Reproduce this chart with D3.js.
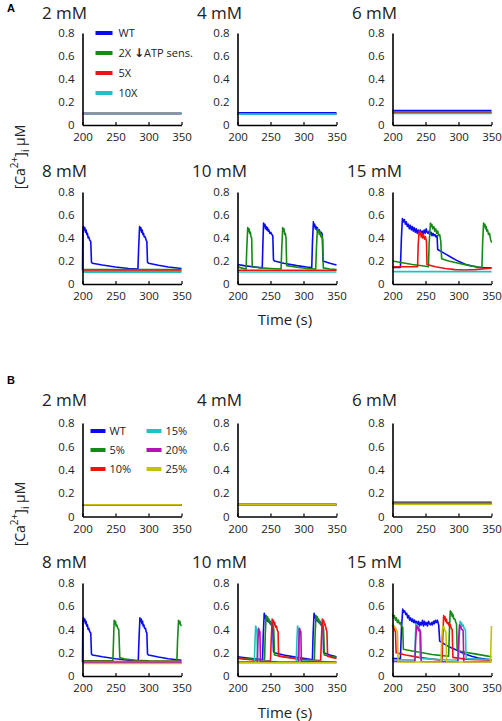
<!DOCTYPE html>
<html><head><meta charset="utf-8">
<script src="https://cdn.jsdelivr.net/npm/d3@7"></script>
<style>
body{margin:0;background:#fff;}
svg{display:block;font-family:"Open Sans",sans-serif;}
</style></head>
<body><svg id="chart" width="502" height="721"></svg>
<script>
// ---------- DATA ----------
const panelTitles = ["2 mM","4 mM","6 mM","8 mM","10 mM","15 mM"];
const xTicks = [200,250,300,350];
const yTicks = [0,0.2,0.4,0.6,0.8];
const seriesA = ["WT","2X \u2193ATP sens.","5X","10X"];
const seriesB = ["WT","5%","10%","15%","20%","25%"];
const xLabel = "Time (s)";

// Panel A traces: [time s, Ca uM]
const A2_WT = [[200,0.1],[350,0.1]];
const A2_2X = [[200,0.1],[350,0.1]];
const A2_5X = [[200,0.1],[350,0.1]];
const A2_10X = [[200,0.1],[350,0.1]];
const A4_WT = [[200,0.107],[350,0.107]];
const A4_2X = [[200,0.097],[350,0.097]];
const A4_5X = [[200,0.096],[350,0.096]];
const A4_10X = [[200,0.095],[350,0.095]];
const A6_WT = [[200,0.125],[350,0.125]];
const A6_2X = [[200,0.112],[350,0.112]];
const A6_5X = [[200,0.105],[350,0.105]];
const A6_10X = [[200,0.1],[350,0.1]];
const A8_WT = [[200,0.12],[200.5,0.47],[201.5,0.5],[202.5,0.47],[203.5,0.49],[204.5,0.45],[205.5,0.47],[206.5,0.43],[207.5,0.44],[208.5,0.4],[209.5,0.41],[211,0.38],[212.5,0.37],[213.6,0.19],[215,0.18],[230,0.165],[250,0.148],[270,0.135],[284,0.13],[285,0.3],[286.5,0.5],[287.5,0.47],[288.5,0.49],[289.5,0.45],[290.5,0.47],[291.5,0.43],[292.5,0.44],[293.5,0.41],[295,0.41],[296.5,0.38],[297.5,0.37],[298.5,0.19],[300,0.18],[315,0.163],[330,0.148],[350,0.135]];
const A8_2X = [[200,0.125],[350,0.125]];
const A8_5X = [[200,0.113],[350,0.113]];
const A8_10X = [[200,0.102],[350,0.102]];
const A10_WT = [[200,0.17],[210,0.16],[220,0.152],[230,0.145],[237.5,0.14],[238.5,0.35],[239.5,0.53],[240.5,0.5],[241.5,0.52],[242.5,0.48],[243.5,0.5],[244.5,0.47],[245.5,0.49],[246.5,0.46],[247.5,0.47],[249,0.44],[250.5,0.45],[252,0.43],[253.5,0.42],[254.5,0.21],[256,0.2],[270,0.18],[290,0.16],[305,0.148],[312.5,0.143],[313.5,0.35],[315,0.54],[316,0.5],[317,0.52],[318,0.48],[319,0.5],[320,0.47],[321,0.49],[322.5,0.46],[324,0.47],[325.5,0.44],[327,0.45],[328.5,0.43],[329.5,0.2],[340,0.18],[350,0.165]];
const A10_2X = [[200,0.15],[207,0.138],[213,0.13],[214,0.3],[215.5,0.49],[216.5,0.46],[217.5,0.48],[218.5,0.44],[219.5,0.45],[220.5,0.41],[221.5,0.4],[222.3,0.15],[235,0.14],[250,0.135],[266,0.13],[267,0.3],[268.5,0.49],[269.5,0.46],[270.5,0.48],[271.5,0.43],[272.5,0.44],[273.5,0.4],[274.5,0.16],[290,0.145],[305,0.135],[318.5,0.13],[319.5,0.3],[321,0.48],[322,0.45],[323,0.47],[324,0.43],[325,0.45],[326.5,0.41],[328,0.42],[329,0.38],[330,0.14],[340,0.13],[350,0.125]];
const A10_5X = [[200,0.12],[350,0.12]];
const A10_10X = [[200,0.105],[350,0.105]];
const A15_WT = [[200,0.145],[212,0.145],[213.5,0.4],[215,0.57],[216.5,0.54],[218,0.56],[219.5,0.52],[221,0.54],[222.5,0.5],[224,0.52],[225.5,0.48],[227,0.51],[228.5,0.47],[230,0.5],[231.5,0.46],[233,0.49],[234.5,0.45],[236,0.48],[237.5,0.44],[239,0.47],[240.5,0.44],[242,0.47],[243.5,0.43],[245,0.46],[246.5,0.44],[248,0.47],[249.5,0.44],[251,0.48],[252.5,0.45],[254,0.44],[255.5,0.46],[257,0.43],[258.5,0.45],[260,0.42],[261.5,0.44],[263,0.42],[264.5,0.43],[266,0.41],[267.5,0.42],[268.5,0.3],[280,0.262],[290,0.228],[300,0.197],[310,0.172],[320,0.156],[330,0.146],[337,0.14],[350,0.14]];
const A15_2X = [[200,0.2],[215,0.185],[230,0.17],[245,0.158],[254.5,0.15],[255.5,0.35],[257.5,0.53],[258.5,0.5],[259.5,0.52],[261,0.48],[262.5,0.5],[264,0.46],[265.5,0.48],[267,0.44],[268.5,0.46],[270,0.42],[271.5,0.43],[273,0.38],[274.5,0.22],[285,0.2],[300,0.18],[315,0.162],[330,0.148],[335.5,0.145],[336.5,0.35],[338,0.53],[339,0.5],[340,0.52],[341,0.48],[342,0.5],[343,0.46],[344,0.47],[345.5,0.43],[347,0.44],[348.5,0.39],[350,0.36]];
const A15_5X = [[200,0.15],[238,0.15],[239,0.35],[240.5,0.46],[241.5,0.43],[242.5,0.45],[243.5,0.41],[244.5,0.44],[245.5,0.4],[247,0.43],[248.5,0.39],[250,0.41],[251.5,0.37],[252.3,0.17],[265,0.15],[280,0.135],[295,0.125],[310,0.122],[325,0.125],[340,0.132],[350,0.138]];
const A15_10X = [[200,0.108],[350,0.108]];

// Panel B traces
const B2_WT = [[200,0.1],[350,0.1]];
const B2_5 = [[200,0.1],[350,0.1]];
const B2_10 = [[200,0.1],[350,0.1]];
const B2_15 = [[200,0.1],[350,0.1]];
const B2_20 = [[200,0.1],[350,0.1]];
const B2_25 = [[200,0.1],[350,0.1]];
const B4_WT = [[200,0.103],[350,0.103]];
const B4_5 = [[200,0.103],[350,0.103]];
const B4_10 = [[200,0.102],[350,0.102]];
const B4_15 = [[200,0.102],[350,0.102]];
const B4_20 = [[200,0.101],[350,0.101]];
const B4_25 = [[200,0.101],[350,0.101]];
const B6_WT = [[200,0.122],[350,0.122]];
const B6_5 = [[200,0.116],[350,0.116]];
const B6_10 = [[200,0.113],[350,0.113]];
const B6_15 = [[200,0.11],[350,0.11]];
const B6_20 = [[200,0.108],[350,0.108]];
const B6_25 = [[200,0.105],[350,0.105]];
const B8_WT = [[200,0.12],[200.5,0.47],[201.5,0.5],[202.5,0.47],[203.5,0.49],[204.5,0.45],[205.5,0.47],[206.5,0.43],[207.5,0.44],[208.5,0.4],[209.5,0.41],[211,0.38],[212.5,0.37],[213.6,0.19],[215,0.18],[230,0.165],[250,0.148],[270,0.135],[284.5,0.13],[285.5,0.3],[287,0.5],[288,0.47],[289,0.49],[290,0.45],[291,0.47],[292,0.43],[293,0.44],[294,0.41],[295.5,0.41],[296.5,0.38],[297.5,0.37],[298.5,0.19],[300,0.18],[315,0.163],[330,0.148],[350,0.135]];
const B8_5 = [[200,0.13],[246,0.13],[247,0.3],[248,0.48],[249,0.45],[250,0.47],[251,0.43],[252,0.44],[253.5,0.41],[255,0.4],[256.5,0.16],[265,0.145],[280,0.135],[300,0.13],[343,0.128],[344,0.3],[345.5,0.48],[346.5,0.45],[347.5,0.47],[348.5,0.44],[350,0.43]];
const B8_10 = [[200,0.125],[350,0.125]];
const B8_15 = [[200,0.118],[350,0.118]];
const B8_20 = [[200,0.113],[350,0.113]];
const B8_25 = [[200,0.107],[350,0.107]];
const B10_WT = [[200,0.165],[215,0.155],[230,0.145],[238,0.14],[239,0.35],[240.5,0.54],[241.5,0.5],[242.5,0.52],[243.5,0.48],[244.5,0.5],[245.5,0.47],[246.5,0.49],[248,0.46],[249.5,0.47],[251,0.44],[252.5,0.45],[253.5,0.43],[254.5,0.21],[256,0.2],[270,0.18],[290,0.16],[305,0.147],[313.5,0.14],[314.5,0.35],[316,0.54],[317,0.5],[318,0.52],[319,0.48],[320,0.5],[321,0.47],[322,0.49],[323.5,0.46],[325,0.47],[326.5,0.44],[328,0.45],[329.5,0.43],[330.5,0.2],[340,0.18],[350,0.165]];
const B10_5 = [[200,0.155],[220,0.145],[241,0.135],[242,0.35],[243.5,0.52],[244.5,0.49],[245.5,0.51],[246.5,0.47],[247.5,0.49],[249,0.45],[250.5,0.46],[252,0.43],[253.5,0.43],[255,0.4],[256,0.18],[270,0.165],[290,0.148],[305,0.138],[316.5,0.135],[317.5,0.35],[319,0.52],[320,0.49],[321,0.51],[322,0.47],[323,0.49],[324.5,0.45],[326,0.46],[327.5,0.43],[329,0.43],[330.5,0.4],[331.5,0.18],[340,0.17],[350,0.16]];
const B10_10 = [[200,0.15],[220,0.14],[240,0.132],[250,0.13],[251,0.3],[252.5,0.49],[253.5,0.46],[254.5,0.48],[255.5,0.44],[256.5,0.46],[257.5,0.42],[259,0.43],[260.5,0.39],[261.5,0.38],[262.3,0.17],[275,0.16],[290,0.148],[310,0.138],[326,0.132],[327,0.3],[328.5,0.49],[329.5,0.46],[330.5,0.48],[331.5,0.44],[332.5,0.45],[334,0.41],[335.5,0.38],[336.5,0.17],[343,0.16],[350,0.15]];
const B10_15 = [[200,0.12],[225.5,0.12],[226.5,0.3],[227.5,0.43],[228.5,0.41],[229.5,0.4],[230.3,0.13],[260,0.122],[289,0.12],[290,0.3],[291,0.43],[292,0.41],[293,0.4],[293.8,0.13],[350,0.12]];
const B10_20 = [[200,0.118],[230,0.118],[231,0.3],[232,0.41],[233,0.39],[234,0.38],[234.8,0.125],[260,0.12],[292,0.118],[293,0.3],[294,0.41],[295,0.39],[296,0.38],[296.8,0.125],[350,0.118]];
const B10_25 = [[200,0.113],[350,0.113]];
const B15_WT = [[200,0.15],[212,0.15],[213.5,0.4],[215.5,0.575],[217,0.55],[218.5,0.56],[220,0.53],[221.5,0.54],[223,0.5],[224.5,0.52],[226,0.48],[227.5,0.5],[229,0.47],[230.5,0.49],[232,0.46],[233.5,0.48],[235,0.45],[236.5,0.47],[238,0.44],[239.5,0.47],[241,0.43],[242.5,0.46],[244,0.44],[245.5,0.48],[247,0.43],[248.5,0.47],[250,0.44],[251.5,0.46],[253,0.43],[254.5,0.47],[256,0.45],[257.5,0.44],[259,0.46],[260.5,0.44],[262,0.47],[263.5,0.45],[265,0.48],[266.5,0.46],[268,0.48],[270,0.44],[271.5,0.3],[280,0.27],[290,0.24],[300,0.215],[310,0.19],[320,0.17],[330,0.155],[340,0.145],[350,0.14]];
const B15_5 = [[200,0.53],[201.5,0.5],[203,0.52],[204.5,0.48],[206,0.5],[207.5,0.46],[209,0.48],[210.5,0.45],[212,0.46],[213.5,0.43],[215.5,0.42],[216.5,0.23],[230,0.215],[245,0.2],[260,0.185],[275,0.175],[285,0.17],[286,0.35],[287.5,0.56],[288.5,0.53],[289.5,0.55],[290.5,0.51],[291.5,0.53],[293,0.49],[294.5,0.49],[296,0.46],[297,0.45],[298,0.22],[310,0.205],[325,0.19],[340,0.175],[350,0.165]];
const B15_10 = [[200,0.44],[201,0.42],[202,0.43],[203,0.4],[204.5,0.38],[205.5,0.2],[220,0.18],[240,0.16],[260,0.145],[275,0.135],[276,0.3],[277.5,0.52],[278.5,0.49],[279.5,0.51],[280.5,0.47],[281.5,0.49],[283,0.45],[284.5,0.46],[286,0.43],[287.5,0.44],[289,0.41],[290.5,0.4],[291.5,0.16],[310,0.145],[330,0.14],[350,0.135]];
const B15_15 = [[200,0.14],[215,0.14],[233.5,0.137],[234.5,0.3],[235.5,0.45],[236.5,0.43],[237.5,0.44],[238.5,0.41],[240,0.42],[241,0.4],[242,0.15],[260,0.145],[280,0.14],[300,0.138],[301,0.3],[302.5,0.47],[303.5,0.45],[304.5,0.46],[305.5,0.43],[307,0.44],[308.5,0.41],[310.5,0.4],[311.5,0.15],[330,0.145],[350,0.14]];
const B15_20 = [[200,0.125],[234,0.125],[235,0.3],[236.5,0.43],[237.5,0.41],[238.5,0.42],[239.5,0.39],[241,0.4],[242.5,0.38],[243.5,0.125],[260,0.123],[299,0.122],[300,0.3],[301.5,0.44],[302.5,0.42],[303.5,0.43],[304.5,0.4],[306,0.4],[307,0.39],[308,0.123],[350,0.122]];
const B15_25 = [[200,0.43],[201,0.44],[202.5,0.42],[204,0.42],[205.5,0.4],[207.5,0.38],[208.5,0.12],[240,0.12],[273.5,0.12],[274.5,0.3],[276,0.43],[277,0.41],[278,0.42],[279.5,0.39],[281,0.38],[282,0.12],[320,0.12],[348.5,0.12],[349.3,0.3],[350,0.43]];

// ---------- STYLE / LAYOUT ----------
const colorsA = ["#0b0bf0","#168a16","#f01212","#1fc2c2"];
const colorsB = ["#0b0bf0","#168a16","#f01212","#1fc2c2","#b412b4","#c2c20a"];
const panelsA = [
  [A2_WT,A2_2X,A2_5X,A2_10X],[A4_WT,A4_2X,A4_5X,A4_10X],[A6_WT,A6_2X,A6_5X,A6_10X],
  [A8_WT,A8_2X,A8_5X,A8_10X],[A10_WT,A10_2X,A10_5X,A10_10X],[A15_WT,A15_2X,A15_5X,A15_10X]];
const panelsB = [
  [B2_WT,B2_5,B2_10,B2_15,B2_20,B2_25],[B4_WT,B4_5,B4_10,B4_15,B4_20,B4_25],[B6_WT,B6_5,B6_10,B6_15,B6_20,B6_25],
  [B8_WT,B8_5,B8_10,B8_15,B8_20,B8_25],[B10_WT,B10_5,B10_10,B10_15,B10_20,B10_25],[B15_WT,B15_5,B15_10,B15_15,B15_20,B15_25]];

const colX = [82.5, 237.5, 392.5];
const plotW = 99;
const svg = d3.select("#chart");

function drawPanel(x0, yTop, yBot, title, titleBase, traces, colors){
  const x = d3.scaleLinear().domain([200,350]).range([x0, x0+plotW]);
  const y = d3.scaleLinear().domain([0,0.8]).range([yBot, yTop]);
  const g = svg.append("g");
  const line = d3.line().x(d=>x(d[0])).y(d=>y(d[1]));
  traces.forEach((tr,i)=>{
    g.append("path").datum(tr).attr("d",line).attr("fill","none")
      .attr("stroke",colors[i]).attr("stroke-width",1.6).attr("stroke-linejoin","round");
  });
  const ya = g.append("g").attr("transform",`translate(${x0},0)`)
    .call(d3.axisLeft(y).tickValues(yTicks).tickFormat(d=>d===0?"0":d3.format(".1f")(d)).tickSize(0).tickPadding(8));
  const xa = g.append("g").attr("transform",`translate(0,${yBot})`)
    .call(d3.axisBottom(x).tickValues(xTicks).tickSizeInner(-3).tickSizeOuter(0).tickPadding(8));
  [ya,xa].forEach(a=>{
    a.select(".domain").attr("stroke","#000").attr("stroke-width",1.6);
    a.selectAll(".tick line").attr("stroke","#000").attr("stroke-width",1.2);
    a.selectAll("text").attr("font-size",11.5).attr("fill","#222").attr("font-family","Open Sans");
  });
  g.append("text").attr("x",x0-18).attr("y",titleBase).attr("text-anchor","middle")
    .attr("font-size",17).attr("fill","#222").text(title);
  return {x,y};
}

const rowsA = [{top:33,bot:125,tb:19},{top:192,bot:284,tb:177}];
const rowsB = [{top:423,bot:516.5,tb:406},{top:583,bot:676,tb:568}];
panelsA.forEach((tr,i)=>{
  const r = rowsA[Math.floor(i/3)];
  drawPanel(colX[i%3], r.top, r.bot, panelTitles[i], r.tb, tr, colorsA);
});
panelsB.forEach((tr,i)=>{
  const r = rowsB[Math.floor(i/3)];
  drawPanel(colX[i%3], r.top, r.bot, panelTitles[i], r.tb, tr, colorsB);
});

// Legends
const legA = svg.append("g");
seriesA.forEach((s,i)=>{
  const yy = 33 + i*20;
  legA.append("line").attr("x1",colX[0]+13).attr("x2",colX[0]+30).attr("y1",yy).attr("y2",yy)
    .attr("stroke",colorsA[i]).attr("stroke-width",4);
  const t = legA.append("text").attr("x",colX[0]+36).attr("y",yy).attr("dy","0.35em")
    .attr("font-size",11).attr("fill","#222");
  if (s.indexOf("\u2193") >= 0) {
    const parts = s.split("\u2193");
    t.append("tspan").text(parts[0]);
    t.append("tspan").attr("font-family","DejaVu Sans").attr("font-weight","bold").attr("font-size",12).text("\u2193");
    t.append("tspan").text(parts[1]);
  } else t.text(s);
});
const legB = svg.append("g");
seriesB.forEach((s,i)=>{
  const col = Math.floor(i/3), row = i%3;
  const yy = 431 + row*19;
  const lx = colX[0] + 8 + col*56;
  legB.append("line").attr("x1",lx).attr("x2",lx+15).attr("y1",yy).attr("y2",yy)
    .attr("stroke",colorsB[i]).attr("stroke-width",4);
  legB.append("text").attr("x",lx+19).attr("y",yy).attr("dy","0.35em")
    .attr("font-size",11).attr("fill","#222").text(s);
});

// Panel letters
svg.append("text").attr("x",7).attr("y",12).attr("font-size",11).attr("font-weight","bold").attr("font-family","Arial, Liberation Sans").text("A");
svg.append("text").attr("x",7).attr("y",384).attr("font-size",11).attr("font-weight","bold").attr("font-family","Arial, Liberation Sans").text("B");

// Y labels
function yLab(cy){
  const t = svg.append("text").attr("transform",`translate(25,${cy}) rotate(-90)`)
    .attr("text-anchor","middle").attr("font-size",14).attr("fill","#222");
  t.append("tspan").text("[Ca");
  t.append("tspan").attr("font-size",10).attr("dy",-7).text("2+");
  t.append("tspan").attr("dy",7).text("]");
  t.append("tspan").attr("font-size",10).attr("dy",4).text("i");
  t.append("tspan").attr("dy",-4).text(" \u00b5M");
}
yLab(157); yLab(514);

// X labels
svg.append("text").attr("x",285).attr("y",325).attr("text-anchor","middle").attr("font-size",15).attr("fill","#222").text(xLabel);
svg.append("text").attr("x",285).attr("y",718).attr("text-anchor","middle").attr("font-size",15).attr("fill","#222").text(xLabel);
</script>
</body></html>
